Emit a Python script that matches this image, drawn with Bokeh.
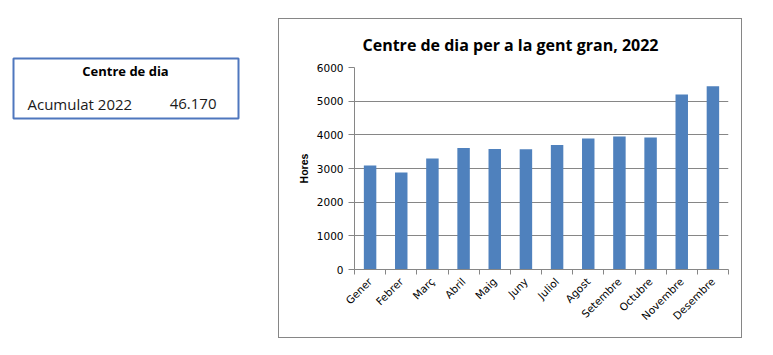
import math
from bokeh.plotting import figure
from bokeh.layouts import row, column
from bokeh.models import Range1d, FixedTicker, Spacer
from bokeh.core.properties import value
from bokeh.embed import file_html
from bokeh.resources import INLINE

months = ["Gener", "Febrer", "Març", "Abril", "Maig", "Juny", "Juliol",
          "Agost", "Setembre", "Octubre", "Novembre", "Desembre"]
hours = [3090, 2880, 3300, 3610, 3580, 3570, 3700, 3890, 3950, 3920, 5200, 5440]
y_ticks = [0, 1000, 2000, 3000, 4000, 5000, 6000]
title_text = "Centre de dia per a la gent gran, 2022"
box_title = "Centre de dia"
box_label = "Acumulat 2022"
box_value = "46.170"

grey = "#868686"
blue_bar = "#4F81BD"
blue_box = "#4F77BE"

# ---------- left info box (pixel-like coordinates, y downward) ----------
LW, H = 279, 355
left = figure(width=LW, height=H, output_backend="svg", toolbar_location=None,
              x_range=Range1d(0, LW), y_range=Range1d(H, 0),
              min_border=0, x_axis_location=None, y_axis_location=None)
left.outline_line_color = None
left.grid.visible = False
left.background_fill_color = "white"
left.border_fill_color = "white"
left.quad(left=[13], right=[238], top=[58], bottom=[118], fill_color=None,
          line_color=blue_box, line_width=2)
left.text(x=[125], y=[70], text=[box_title], text_font=value("Open Sans"),
          text_font_style="bold", text_font_size="13px", text_align="center",
          text_baseline="middle", text_color="#000000")
left.text(x=[27], y=[103], text=[box_label], text_font=value("Open Sans"),
          text_font_size="15px", text_align="left", text_baseline="middle",
          text_color="#1a1a1a")
left.text(x=[216], y=[103], text=[box_value], text_font=value("Open Sans"),
          text_font_size="15px", text_align="right", text_baseline="middle",
          text_color="#1a1a1a")

# ---------- chart ----------
CW, CH = 462, 318
p = figure(width=CW, height=CH, output_backend="svg", toolbar_location=None,
           x_range=Range1d(0, len(months)), y_range=Range1d(0, 6000),
           min_border_left=75, min_border_right=13, min_border_top=48,
           min_border_bottom=68,
           styles={"outline": "1px solid " + grey})
p.outline_line_color = None
p.background_fill_color = "white"
p.border_fill_color = "white"

p.title.text = title_text
p.title.text_font = "Open Sans"
p.title.text_font_style = "bold"
p.title.text_font_size = "16px"
p.title.text_color = "#000000"
p.title.align = "left"
p.title.offset = 8
p.title.standoff = 24

xs = [i + 0.5 for i in range(len(months))]
p.vbar(x=xs, top=hours, width=0.4, bottom=0, fill_color=blue_bar, line_color=None)

p.xgrid.grid_line_color = None
p.ygrid.grid_line_color = grey
p.ygrid.ticker = FixedTicker(ticks=y_ticks)

p.yaxis.ticker = FixedTicker(ticks=y_ticks)
p.yaxis.axis_line_color = grey
p.yaxis.major_tick_line_color = grey
p.yaxis.major_tick_out = 6
p.yaxis.major_tick_in = 0
p.yaxis.minor_tick_line_color = None
p.yaxis.major_label_text_font = "DejaVu Sans"
p.yaxis.major_label_text_font_size = "10.5px"
p.yaxis.major_label_text_color = "#000000"
p.yaxis.major_label_standoff = 5
p.yaxis.axis_label = "Hores"
p.yaxis.axis_label_text_font = "Liberation Sans"
p.yaxis.axis_label_text_font_style = "bold"
p.yaxis.axis_label_text_font_size = "10.5px"
p.yaxis.axis_label_text_color = "#000000"
p.yaxis.axis_label_standoff = 4

p.xaxis.ticker = FixedTicker(ticks=xs, minor_ticks=list(range(len(months) + 1)))
p.xaxis.major_label_overrides = {x: m for x, m in zip(xs, months)}
p.xaxis.major_label_orientation = math.pi / 4
p.xaxis.axis_line_color = grey
p.xaxis.major_tick_line_color = None
p.xaxis.minor_tick_line_color = grey
p.xaxis.minor_tick_out = 5
p.xaxis.minor_tick_in = 0
p.xaxis.major_label_text_font = "DejaVu Sans"
p.xaxis.major_label_text_font_size = "10.5px"
p.xaxis.major_label_text_color = "#000000"
p.xaxis.major_label_standoff = 4

layout = row(left, column(Spacer(height=19, width=CW), p))

open("out.html", "w").write(file_html(layout, INLINE))
